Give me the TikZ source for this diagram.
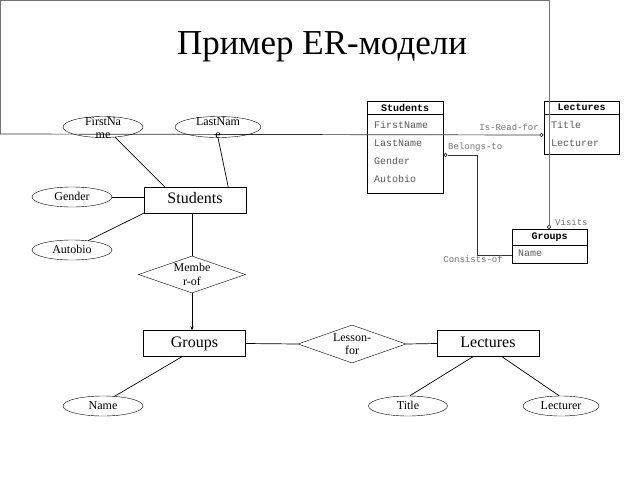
\documentclass[tikz,border=0pt]{standalone}
\usepackage{fontspec}
\setmainfont{Liberation Serif}
\setmonofont{Liberation Mono}
\usetikzlibrary{shapes.geometric,arrows.meta}

\tikzset{
    entity/.style={draw, rectangle, minimum width=102pt, minimum height=26pt, inner sep=0pt, text height=11pt, text depth=3.5pt, font=\fontsize{16}{16}\selectfont},
    attrib/.style={draw, ellipse, minimum width=80pt, minimum height=20pt, inner sep=0pt, text height=8.5pt, text depth=2.5pt, font=\fontsize{12}{12}\selectfont},
    relship/.style={draw, diamond, aspect=2.9, minimum width=107pt, minimum height=37pt, inner sep=0pt},
    wraptext/.style={align=center, inner sep=0pt, font=\fontsize{12}{13.5}\selectfont},
    erline/.style={draw, line width=0.7pt},
    tabhead/.style={draw, line width=0.9pt, minimum width=75pt, minimum height=13pt, inner sep=0pt, font=\ttfamily\bfseries\fontsize{10}{10}\selectfont},
    tabbody/.style={draw, line width=0.9pt, minimum width=75pt, inner sep=0pt, anchor=north},
    tabrow/.style={anchor=west, inner sep=0pt, text=black!65, font=\ttfamily\fontsize{10}{10}\selectfont},
    linklabel/.style={inner sep=0pt, text=black!55, font=\ttfamily\fontsize{9}{9}\selectfont},
    link/.style={draw, line width=0.7pt, black!80},
    endmark/.style={draw, circle, line width=0.6pt, inner sep=0pt, minimum size=3.5pt},
    frame/.style={draw, line width=0.8pt, black!55}
}

\begin{document}
\begin{tikzpicture}[x=1pt, y=-1pt]
        \useasboundingbox (0,0) rectangle (640,480);

        \node[font=\fontsize{35}{35}\selectfont] (title) at (322,47) {Пример ER-модели};

        % relational tables
        \node[tabhead, minimum width=76pt] (s-head) at (405,107.5) {Students};
        \node[tabbody, minimum width=76pt, minimum height=79pt] (s-body) at (s-head.south) {};
        \node[tabrow] (s-first) at (374,125) {FirstName};
        \node[tabrow] (s-last) at (374,143) {LastName};
        \node[tabrow] (s-gender) at (374,161) {Gender};
        \node[tabrow] (s-auto) at (374,179) {Autobio};

        \node[tabhead] (l-head) at (581.5,107.5) {Lectures};
        \node[tabbody, minimum height=40pt] (l-body) at (l-head.south) {};
        \node[tabrow] (l-title) at (551,125) {Title};
        \node[tabrow] (l-lect) at (551,143) {Lecturer};

        \node[tabhead, minimum height=16pt] (g-head) at (549.5,237) {Groups};
        \node[tabbody, minimum height=18pt] (g-body) at (g-head.south) {};
        \node[tabrow] (g-name) at (518,253.5) {Name};

        \coordinate (frame-nw) at (0,0);
        \coordinate (frame-ne) at (549,0);
        \coordinate (frame-sw) at (0,134);
        \coordinate (bt-bend) at (477,155);
        \node[endmark] (rf-dot) at (541.5,135) {};
        \node[endmark] (bt-dot) at (445.5,155) {};
        \node[endmark] (vi-dot) at (549,227) {};

        \draw[frame] (frame-sw) -- (frame-nw) -- (frame-ne) -- (vi-dot);
        \draw[link] (frame-sw) -- (rf-dot);
        \draw[link] (bt-dot) -- (bt-bend) |- (g-body.west);

        \node[linklabel, anchor=east] (rf-label) at (539,127) {Is-Read-for};
        \node[linklabel, anchor=west] (bt-label) at (448,147.5) {Belongs-to};
        \node[linklabel, anchor=east] (co-label) at (503,259.5) {Consists-of};
        \node[linklabel, anchor=west] (vi-label) at (555,222) {Visits};

        % ER model
        \node[entity] (students) at (195,200) {Students};
        \node[entity] (groups) at (194.5,343.5) {Groups};
        \node[entity] (lectures) at (488,343.5) {Lectures};

        \node[attrib, minimum height=21pt] (fname) at (103,127) {};
        \node[wraptext] (fname-text) at (103,128) {FirstNa\\me};
        \node[attrib, minimum width=86pt, minimum height=21pt] (lname) at (218,127) {};
        \node[wraptext] (lname-text) at (218,128) {LastNam\\e};
        \node[attrib] (gender) at (72,197) {Gender};
        \node[attrib] (autobio) at (72,250) {Autobio};
        \node[attrib] (gname) at (103,406) {Name};
        \node[attrib, minimum width=79pt] (ltitle) at (408,406) {Title};
        \node[attrib, minimum width=76pt] (lecturer) at (561,406) {Lecturer};

        \node[relship] (member) at (192,274.5) {};
        \node[wraptext] (member-text) at (192,274.5) {Membe\\r-of};
        \node[relship, minimum width=108pt, minimum height=38pt] (lesson) at (352,344) {};
        \node[wraptext] (lesson-text) at (352,344) {Lesson-\\for};

        \draw[erline] (fname.320) -- ([xshift=21pt]students.north west);
        \draw[erline] (lname.south) -- ([xshift=-18pt]students.north east);
        \draw[erline] (gender.east) -- (gender.east -| students.west);
        \draw[erline] (autobio.30) -- (students.south west);
        \draw[erline] (member.north) -- (member.north |- students.south);
        \draw[erline, -{Stealth[length=4pt,width=3pt]}] (member.south) -- (member.south |- groups.north);
        \draw[erline] (groups.east) -- (lesson.west);
        \draw[erline] (lesson.east) -- (lectures.west);
        \draw[erline] ([xshift=-12.5pt]groups.south) -- (gname.40);
        \draw[erline] ([xshift=-15pt]lectures.south) -- (ltitle.80);
        \draw[erline] ([xshift=14pt]lectures.south) -- (lecturer.100);
\end{tikzpicture}
\end{document}
